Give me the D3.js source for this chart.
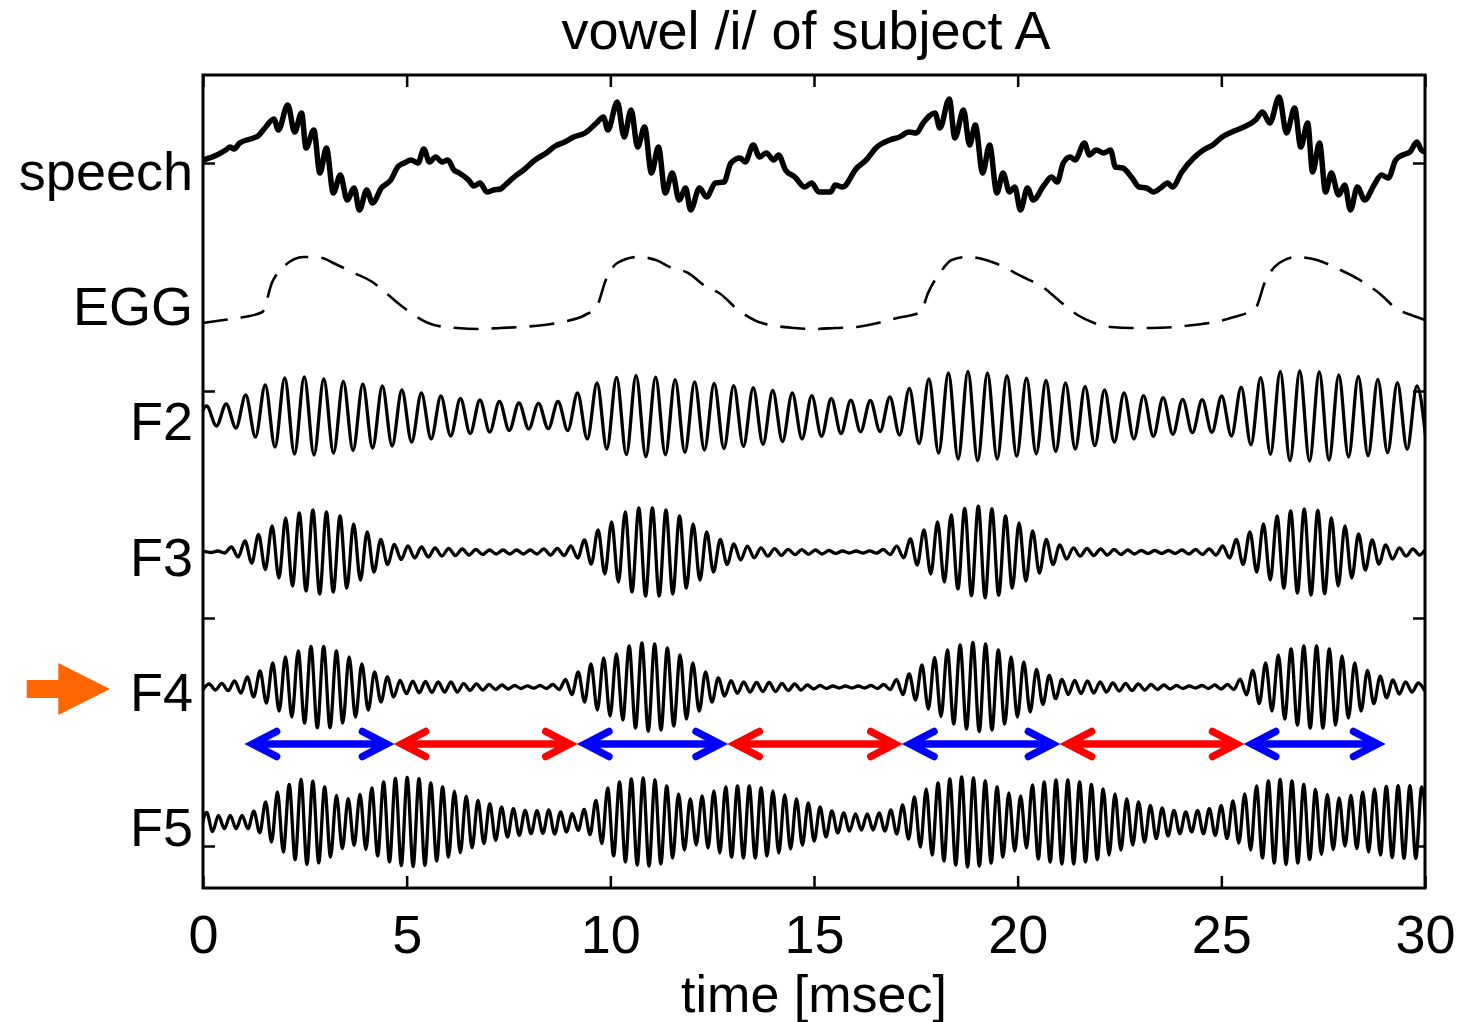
<!DOCTYPE html>
<html>
<head>
<meta charset="utf-8">
<script src="https://cdn.jsdelivr.net/npm/d3@7"></script>
<style>
  body { margin: 0; background: #fff; }
  text { font-family: "Liberation Sans", Arial, Helvetica, sans-serif; }
</style>
</head>
<body>
<div id="viz"></div>
<script>
"use strict";

// time axis [msec]
var timeDomain = [0, 30];
var xTicks = [0, 5, 10, 15, 20, 25, 30];
// y is in arbitrary offset units, ticks are unlabelled
var yDomain = [-42, 771];
var yTicks = [0, 228, 455, 683];

var traceLabels = ["speech", "EGG", "F2", "F3", "F4", "F5"];
var labelLevels = [680, 545, 430, 294, 159, 24];

// speech waveform (t in msec, value in y units)
var speechT = [0, 0.34, 0.56, 0.67, 0.76, 0.90, 1.24, 1.35, 1.52, 1.74, 1.85, 2.08, 2.25, 2.42, 2.53, 2.72, 2.87, 3.03, 3.20, 3.37,
  3.54, 3.71, 3.84, 4.02, 4.16, 4.38, 4.61, 4.78, 4.94, 5.11, 5.28, 5.42, 5.56, 5.71, 5.87, 6.01, 6.16, 6.29, 6.52, 6.65,
  6.80, 6.97, 7.13, 7.30, 7.42, 7.64, 7.87, 8.15, 8.43, 8.65, 8.88, 9.10, 9.38, 9.66, 9.83, 9.94, 10.17, 10.34, 10.51, 10.67,
  10.84, 11.01, 11.18, 11.35, 11.52, 11.69, 11.85, 11.97, 12.19, 12.36, 12.58, 12.79, 12.96, 13.19, 13.31, 13.51, 13.66, 13.83, 14.01, 14.13,
  14.30, 14.53, 14.77, 14.94, 15.12, 15.41, 15.52, 15.70, 16.05, 16.28, 16.52, 16.86, 17.10, 17.33, 17.51, 17.68, 17.97, 18.09, 18.32, 18.46,
  18.67, 18.82, 18.96, 19.14, 19.31, 19.49, 19.64, 19.80, 19.93, 20.07, 20.24, 20.38, 20.65, 20.83, 20.97, 21.12, 21.29, 21.41, 21.64, 21.76,
  21.93, 22.11, 22.28, 22.40, 22.58, 22.81, 22.98, 23.16, 23.33, 23.51, 23.68, 23.80, 24.03, 24.32, 24.56, 24.79, 25.02, 25.26, 25.55, 25.84,
  26.01, 26.19, 26.42, 26.60, 26.80, 26.95, 27.12, 27.24, 27.41, 27.56, 27.70, 27.88, 28.03, 28.17, 28.34, 28.52, 28.75, 28.93, 29.10, 29.28,
  29.45, 29.63, 29.80, 29.91, 30.0];
var speechV = [686, 691, 696, 699, 697, 703, 708, 710, 718, 727, 716, 741, 714, 733, 698, 716, 673, 698, 653, 671,
  646, 658, 636, 656, 643, 658, 666, 679, 683, 686, 683, 697, 684, 689, 684, 686, 676, 673, 666, 660,
  663, 654, 656, 657, 661, 669, 676, 686, 693, 700, 704, 709, 713, 723, 729, 716, 744, 709, 736, 699,
  719, 673, 699, 653, 673, 646, 658, 636, 658, 649, 663, 664, 683, 688, 684, 701, 689, 693, 686, 691,
  676, 669, 659, 663, 654, 654, 661, 659, 678, 686, 698, 706, 709, 714, 713, 723, 733, 718, 747, 708,
  736, 701, 721, 673, 701, 653, 673, 654, 659, 636, 658, 646, 661, 669, 664, 683, 689, 686, 703, 691,
  696, 693, 696, 679, 678, 668, 659, 658, 654, 658, 663, 659, 674, 688, 696, 701, 709, 714, 719, 726,
  734, 723, 749, 713, 738, 699, 723, 674, 703, 654, 673, 651, 661, 636, 659, 646, 661, 671, 668, 686,
  691, 694, 704, 696, 694];

// EGG
var eggT = [0, 0.51, 1.01, 1.46, 1.69, 1.97, 2.47, 2.92, 3.20, 3.65, 4.16, 4.55, 4.94, 5.67, 6.24, 6.80, 7.30, 7.81, 8.37, 8.82,
  9.38, 9.66, 9.89, 10.17, 10.67, 11.12, 11.46, 11.91, 12.36, 12.67, 13.14, 13.72, 14.53, 15.0, 15.52, 16.05, 16.57, 17.04, 17.62, 17.80,
  18.09, 18.38, 18.73, 19.02, 19.37, 20.13, 20.65, 21.0, 21.47, 21.88, 22.28, 22.81, 23.27, 23.86, 24.32, 24.85, 25.31, 25.84, 26.07, 26.42,
  26.83, 27.35, 27.82, 28.40, 28.87, 29.28, 29.80, 30.0];
var eggV = [523, 526, 529, 534, 563, 579, 589, 588, 583, 574, 564, 551, 538, 521, 518, 517, 518, 519, 521, 524,
  531, 539, 566, 583, 589, 586, 579, 573, 559, 553, 536, 523, 518, 517, 518, 519, 523, 528, 534, 553,
  573, 586, 589, 588, 584, 569, 558, 546, 531, 523, 519, 518, 518, 519, 521, 524, 529, 538, 564, 583,
  589, 586, 578, 566, 553, 538, 529, 526];

// formant band outputs: level, time of first peak, period [msec]
var formantLevel = [430, 294, 159, 24];
var formantStart = [0.09, 0.03, 0.15, 0.09];
var formantPeriod = [0.4792, 0.3334, 0.3125, 0.2896];

// peak amplitude of every cycle
var f2Amp = [10, 12, 21, 31, 38, 39, 37, 34.5, 32, 30, 26, 23, 20, 17.5, 16, 14.5, 13, 12.7, 14.5, 23, 33,
  38.7, 40.7, 38.8, 36.3, 34, 32.5, 30.3, 28.3, 25.5, 23, 20.3, 17.5, 15.8, 15.5, 19, 27.5, 37, 43, 44.7, 43, 40.3,
  37.8, 35.5, 33, 29.7, 26, 23, 20.3, 18.3, 16.7, 16.3, 20, 28.8, 38.3, 44.7, 45, 44, 41, 39.7, 36.7, 33.3, 30];
var f3Amp = [0.5, 1, 5, 11, 17.5, 26, 34, 39, 42, 40, 36, 28, 20, 12.5, 7.5, 6, 5, 4, 3.5, 3,
  2.5, 2, 2, 2, 2, 3, 3.5, 6, 12, 22, 30, 40, 44, 44, 42, 36, 28, 20, 12.5, 8,
  5.8, 4.2, 3.3, 2.7, 2.3, 2, 1.5, 1, 1, 1.2, 2.5, 5.8, 13, 22, 30, 37, 43.7, 45.8, 43.3, 36,
  29, 21, 12.5, 7.2, 4.2, 3.5, 3, 2.5, 2, 1.5, 1.5, 1.5, 2, 2.5, 3, 6, 12.5, 20, 28, 36,
  41, 43, 41.7, 34, 26, 18, 12, 7.2, 4.2, 3, 2.5];
var f4Amp = [3, 3.7, 6, 10, 16, 24, 30, 36, 40.7, 40.7, 36, 30, 23, 15, 10, 6.7, 5.8, 5.5, 5, 5,
  3.3, 3, 2.5, 2, 1.5, 1.2, 1.5, 2.5, 7.5, 15, 23, 29,
  33, 41, 44, 43, 39, 32, 24, 15, 9, 6.3, 5, 4.5, 4.5, 3.5, 3, 2, 1.5, 1, 1, 1,
  1.5, 2.5, 7.5, 13, 22, 29.5, 37, 42, 44.5, 43, 37, 30, 25,
  17.5, 11.7, 7.5, 6.7, 6, 5, 4, 3.5, 3, 2.5, 2, 1.5, 1, 1.5, 2, 2.5, 7.8, 16.7, 24, 32,
  38, 41, 41, 38, 31, 24, 16.7, 10.8, 7, 5, 4];
var f5Amp = [9.5, 6.7, 6.7, 6.7, 10.8, 20, 30, 37.7, 42.5, 40.8, 35, 26.7, 23.3, 27.5, 34, 40, 43.7, 44.5, 43.3, 39,
  35, 30.8, 25.8, 21.7, 18.3, 15, 13.3, 11.7, 11.3, 12, 10, 8.3, 12.5, 21.7, 34,
  40, 43, 44, 42, 36, 28, 23, 26, 31, 35, 36, 36, 34, 31, 27, 23, 19, 15, 11, 9,
  8, 8, 9, 12, 17, 25, 33, 39, 43, 45, 44, 41, 35, 29, 26,
  37, 40, 42, 42, 40, 37.5, 33, 28, 23, 20, 16.7, 14, 11.7, 10, 11.7, 13.3, 16.7, 21, 28, 36,
  41, 42.5, 41, 37.5, 32.5, 27.5, 24, 26.7, 30, 33, 35.5, 36.3, 36.3, 35];
var formantAmps = [f2Amp, f3Amp, f4Amp, f5Amp];

// double arrows between F4 and F5 (msec), alternating colours
var arrowBounds = [1.03, 4.69, 9.19, 12.88, 17.17, 21.04, 25.56, 29.02];
var arrowColors = ["#0000ff", "#ff0000", "#0000ff", "#ff0000", "#0000ff", "#ff0000", "#0000ff"];
var arrowLevel = 102;

var width = 1463,
	height = 1022,
	margin = {left: 203, right: 38, top: 75, bottom: 134},
	fontSize = 54,
	tickLen = 12;

var x = d3.scaleLinear().domain(timeDomain).range([margin.left, width - margin.right]);
var y = d3.scaleLinear().domain(yDomain).range([height - margin.bottom, margin.top]);

var svg = d3.select("#viz").append("svg")
	.attr("width", width)
	.attr("height", height)
	.style("background", "#fff");

svg.append("clipPath").attr("id", "plot-clip")
	.append("rect")
	.attr("x", x(timeDomain[0]))
	.attr("y", y(yDomain[1]))
	.attr("width", x(timeDomain[1]) - x(timeDomain[0]))
	.attr("height", y(yDomain[0]) - y(yDomain[1]));

var traces = svg.append("g").attr("clip-path", "url(#plot-clip)");

var line = d3.line()
	.x(function(d){ return x(d[0]) })
	.y(function(d){ return y(d[1]) })
	.curve(d3.curveMonotoneX);

// speech
traces.append("path")
	.attr("d", line(d3.zip(speechT, speechV)))
	.attr("fill", "none")
	.attr("stroke", "#000")
	.attr("stroke-width", 5.5)
	.attr("stroke-linejoin", "round");

// EGG
traces.append("path")
	.attr("d", line(d3.zip(eggT, eggV)))
	.attr("fill", "none")
	.attr("stroke", "#000")
	.attr("stroke-width", 2.6)
	.attr("stroke-dasharray", "25,13");

// one peak and one trough per cycle
var cyclePoints = function(amps, t0, period, level) {
	var pts = [[t0 - period / 2, level - amps[0]]];
	amps.forEach(function(a, k){
		pts.push([t0 + k * period, level + a]);
		pts.push([t0 + (k + 0.5) * period, level - a]);
	});
	return pts;
};

formantAmps.forEach(function(amps, i){
	traces.append("path")
		.attr("d", line(cyclePoints(amps, formantStart[i], formantPeriod[i], formantLevel[i])))
		.attr("fill", "none")
		.attr("stroke", "#000")
		.attr("stroke-width", 3.3);
});

// arrows
var headBack = 24, headHalf = 12.5, tipInset = 7.6, arrowWidth = 7.5;
var arrowGroup = svg.append("g");
arrowColors.forEach(function(color, i){
	var x0 = x(arrowBounds[i]) + tipInset,
		x1 = x(arrowBounds[i + 1]) - tipInset,
		ay = y(arrowLevel);
	var g = arrowGroup.append("g")
		.attr("stroke", color)
		.attr("stroke-width", arrowWidth)
		.attr("fill", "none");
	g.append("line")
		.attr("x1", x0).attr("x2", x1)
		.attr("y1", ay).attr("y2", ay);
	[[x0, 1], [x1, -1]].forEach(function(h){
		g.append("path")
			.attr("d", "M" + (h[0] + h[1] * headBack) + "," + (ay - headHalf) +
				"L" + h[0] + "," + ay +
				"L" + (h[0] + h[1] * headBack) + "," + (ay + headHalf))
			.attr("stroke-linecap", "round")
			.attr("stroke-linejoin", "miter");
	});
});

// orange marker at F4
var my = y(formantLevel[2]) + 2;
svg.append("path")
	.attr("d", "M26.7," + (my - 9) + "H58.3V" + (my - 26) + "L110," + my +
		"L58.3," + (my + 26) + "V" + (my + 9) + "H26.7Z")
	.attr("fill", "#ff6600");

// axes, ticks inside the box
var axisG = svg.append("g");
var styleAxis = function(g) {
	g.select(".domain").remove();
	g.selectAll(".tick line").attr("stroke", "#000").attr("stroke-width", 2.5);
	g.selectAll("text")
		.attr("font-size", fontSize)
		.attr("font-family", "'Liberation Sans', Arial, Helvetica, sans-serif")
		.attr("fill", "#000");
};

axisG.append("g")
	.attr("transform", "translate(0," + y(yDomain[0]) + ")")
	.call(d3.axisBottom(x).tickValues(xTicks).tickSize(-tickLen).tickPadding(27).tickFormat(d3.format("d")))
	.call(styleAxis);
axisG.append("g")
	.attr("transform", "translate(0," + y(yDomain[1]) + ")")
	.call(d3.axisTop(x).tickValues(xTicks).tickSize(-tickLen).tickFormat(""))
	.call(styleAxis);
axisG.append("g")
	.attr("transform", "translate(" + x(timeDomain[0]) + ",0)")
	.call(d3.axisLeft(y).tickValues(yTicks).tickSize(-tickLen).tickFormat(""))
	.call(styleAxis);
axisG.append("g")
	.attr("transform", "translate(" + x(timeDomain[1]) + ",0)")
	.call(d3.axisRight(y).tickValues(yTicks).tickSize(-tickLen).tickFormat(""))
	.call(styleAxis);

svg.append("rect")
	.attr("x", x(timeDomain[0]))
	.attr("y", y(yDomain[1]))
	.attr("width", x(timeDomain[1]) - x(timeDomain[0]))
	.attr("height", y(yDomain[0]) - y(yDomain[1]))
	.attr("fill", "none")
	.attr("stroke", "#000")
	.attr("stroke-width", 3);

// trace names
svg.append("g").selectAll("text")
	.data(traceLabels)
	.enter().append("text")
	.attr("x", x(timeDomain[0]) - 10)
	.attr("y", function(d, i){ return y(labelLevels[i]) + 24 })
	.attr("text-anchor", "end")
	.attr("font-size", fontSize)
	.text(function(d){ return d });

svg.append("text")
	.attr("x", 806)
	.attr("y", 49)
	.attr("text-anchor", "middle")
	.attr("font-size", fontSize)
	.text("vowel /i/ of subject A");

svg.append("text")
	.attr("x", (x(timeDomain[0]) + x(timeDomain[1])) / 2)
	.attr("y", 1012)
	.attr("text-anchor", "middle")
	.attr("font-size", 52)
	.text("time [msec]");
</script>
</body>
</html>
